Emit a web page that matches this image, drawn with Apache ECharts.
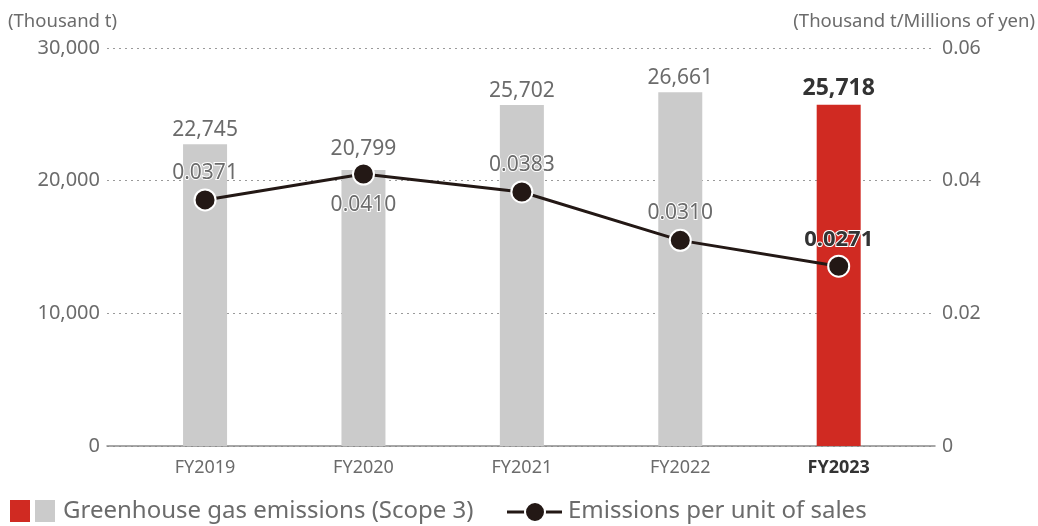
<!DOCTYPE html>
<html>
<head>
<meta charset="utf-8">
<script src="https://cdn.jsdelivr.net/npm/echarts@6/dist/echarts.min.js"></script>
<style>
  html, body { margin: 0; padding: 0; background: #fff; }
  #main { width: 1038px; height: 526px; }
</style>
</head>
<body>
<div id="main"></div>
<script>
// data
var categories = ['FY2019', 'FY2020', 'FY2021', 'FY2022', 'FY2023'];
var emissions = [22745, 20799, 25702, 26661, 25718];      // thousand t
var intensity = [0.0371, 0.0410, 0.0383, 0.0310, 0.0271]; // thousand t / million yen
var leftTicks = [0, 10000, 20000, 30000];
var rightTicks = [0, 0.02, 0.04, 0.06];

var latest = categories.length - 1;
var FONT = '"Noto Sans", sans-serif';
var grey = '#6b6b6b';
var red = '#d02a22';
var barGrey = '#cbcbcb';
var lineColor = '#231815';

function fmtInt(v) {
    return String(v).replace(/\B(?=(\d{3})+(?!\d))/g, ',');
}

var dom = document.getElementById('main');
var myChart = echarts.init(dom, null, { renderer: 'canvas' });

// bars, newest year highlighted in red
var barData = emissions.map(function (v, i) {
    var item = { value: [i, v], itemStyle: { color: i === latest ? red : barGrey } };
    if (i === latest) {
        item.label = { fontWeight: 'bold', color: '#333', fontSize: 23, distance: 5 };
    }
    if (i === 1) {
        item.label = { distance: 11 };
    }
    return item;
});

var lineData = intensity.map(function (v, i) {
    var item = { value: [i, v] };
    if (i === 1) {
        item.label = { position: 'bottom', distance: 9 };
    }
    if (i === latest) {
        item.label = { fontWeight: 'bold', color: '#333', fontSize: 22, distance: 4 };
    }
    return item;
});

var option = {
    animation: false,
    textStyle: { fontFamily: FONT },
    grid: { left: 107, right: 103, top: 48, bottom: 80 },
    xAxis: {
        type: 'value',
        min: -0.619,
        max: 4.608,
        splitLine: { show: false },
        axisTick: { show: false },
        axisLine: { show: true, onZero: false, lineStyle: { color: '#8a8a8a', width: 1.5 } },
        axisLabel: {
            customValues: categories.map(function (c, i) { return i; }),
            margin: 13,
            fontSize: 18,
            color: grey,
            fontFamily: FONT,
            formatter: function (v) {
                var i = Math.round(v);
                return i === latest ? '{b|' + categories[i] + '}' : categories[i];
            },
            rich: {
                b: { fontWeight: 'bold', color: '#333', fontSize: 18, fontFamily: FONT }
            }
        }
    },
    yAxis: [{
        type: 'value',
        min: leftTicks[0],
        max: leftTicks[leftTicks.length - 1],
        interval: leftTicks[1] - leftTicks[0],
        axisLine: { show: false },
        axisTick: { show: false },
        axisLabel: { margin: 7, fontSize: 20, color: grey, fontFamily: FONT, formatter: fmtInt },
        splitLine: { show: true, lineStyle: { color: '#9a9a9a', type: [2, 4], width: 1 } }
    }, {
        type: 'value',
        min: rightTicks[0],
        max: rightTicks[rightTicks.length - 1],
        interval: rightTicks[1] - rightTicks[0],
        position: 'right',
        axisLine: { show: false },
        axisTick: { show: false },
        splitLine: { show: false },
        axisLabel: {
            margin: 7, fontSize: 19.5, color: grey, fontFamily: FONT,
            formatter: function (v) { return v === 0 ? '0' : v.toFixed(2); }
        }
    }],
    series: [{
        name: 'Greenhouse gas emissions (Scope 3)',
        type: 'bar',
        barWidth: 44,
        yAxisIndex: 0,
        data: barData,
        label: {
            show: true,
            position: 'top',
            distance: 4,
            fontSize: 21,
            color: grey,
            fontFamily: FONT,
            formatter: function (p) { return fmtInt(p.value[1]); }
        },
        z: 1
    }, {
        name: 'Emissions per unit of sales',
        type: 'line',
        yAxisIndex: 1,
        data: lineData,
        symbol: 'circle',
        symbolSize: 21,
        lineStyle: { color: lineColor, width: 3 },
        itemStyle: { color: lineColor, borderColor: '#fff', borderWidth: 2 },
        label: {
            show: true,
            position: 'top',
            distance: 5,
            fontSize: 21,
            color: grey,
            fontFamily: FONT,
            textBorderColor: '#fff',
            textBorderWidth: 2,
            formatter: function (p) { return p.value[1].toFixed(4); }
        },
        z: 3
    }],
    graphic: [
        { type: 'text', left: 8, top: 12, style: { text: '(Thousand t)', fontSize: 18.5, fill: grey, fontFamily: FONT } },
        { type: 'text', right: 3, top: 12, style: { text: '(Thousand t/Millions of yen)', fontSize: 18.5, fill: grey, fontFamily: FONT } },
        { type: 'rect', left: 10, top: 500, shape: { width: 20, height: 22 }, style: { fill: red } },
        { type: 'rect', left: 35, top: 500, shape: { width: 20, height: 22 }, style: { fill: barGrey } },
        { type: 'text', left: 63, top: 499, style: { text: 'Greenhouse gas emissions (Scope 3)', fontSize: 24, fill: grey, fontFamily: FONT } },
        { type: 'line', shape: { x1: 507, y1: 512, x2: 562, y2: 512 }, style: { stroke: lineColor, lineWidth: 3 } },
        { type: 'circle', shape: { cx: 535, cy: 512, r: 10 }, style: { fill: lineColor, stroke: '#fff', lineWidth: 2 } },
        { type: 'text', left: 568, top: 499, style: { text: 'Emissions per unit of sales', fontSize: 24, fill: grey, fontFamily: FONT } }
    ]
};

myChart.setOption(option);
</script>
</body>
</html>
